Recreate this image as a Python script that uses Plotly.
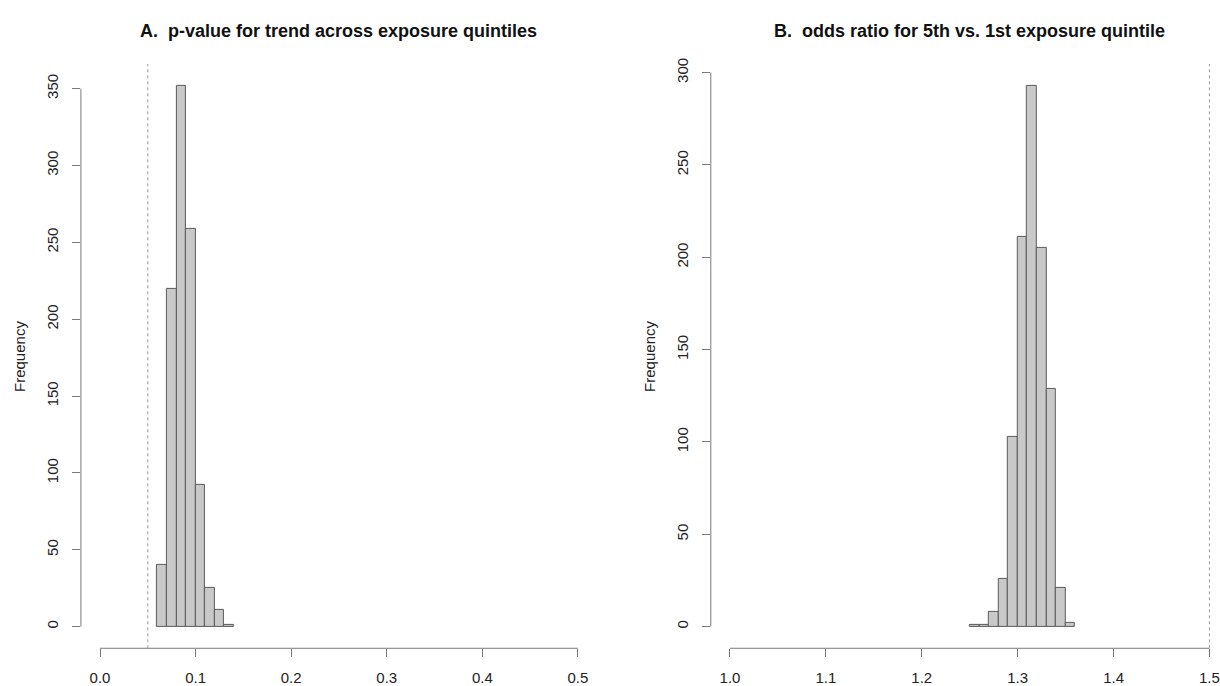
import plotly.graph_objects as go

# ---------------- Data ----------------
# Panel A: p-value for trend
a_bin_left = [0.06, 0.07, 0.08, 0.09, 0.10, 0.11, 0.12, 0.13]
a_counts = [40, 220, 352, 259, 92, 25, 11, 1]
a_xticks = [0.0, 0.1, 0.2, 0.3, 0.4, 0.5]
a_xticklabels = ["0.0", "0.1", "0.2", "0.3", "0.4", "0.5"]
a_yticks = [0, 50, 100, 150, 200, 250, 300, 350]
a_ref = 0.05
a_title = "A.  p-value for trend across exposure quintiles"

# Panel B: odds ratio
b_bin_left = [1.25, 1.26, 1.27, 1.28, 1.29, 1.30, 1.31, 1.32, 1.33, 1.34, 1.35]
b_counts = [1, 1, 8, 26, 103, 211, 293, 205, 129, 21, 2]
b_xticks = [1.0, 1.1, 1.2, 1.3, 1.4, 1.5]
b_xticklabels = ["1.0", "1.1", "1.2", "1.3", "1.4", "1.5"]
b_yticks = [0, 50, 100, 150, 200, 250, 300]
b_ref = 1.5
b_title = "B.  odds ratio for 5th vs. 1st exposure quintile"

bin_width = 0.01

# ---------------- Layout parameters ----------------
W, H = 1220, 686
a_xlim = (0.0, 0.5)
b_xlim = (1.0, 1.5)
pad = 0.04
a_xrange = [a_xlim[0] - pad * (a_xlim[1] - a_xlim[0]), a_xlim[1] + pad * (a_xlim[1] - a_xlim[0])]
b_full = [b_xlim[0] - pad * (b_xlim[1] - b_xlim[0]), b_xlim[1] + pad * (b_xlim[1] - b_xlim[0])]
b_xrange = [b_full[0], 1.511]  # picture is cropped at the right edge
a_yrange = [-pad * max(a_counts), (1 + pad) * max(a_counts)]
b_yrange = [-pad * max(b_counts), (1 + pad) * max(b_counts)]

a_dom_x = [80.9 / W, 597 / W]
b_dom_x = [710.8 / W, 1.0]
dom_y = [1 - 648.9 / H, 1 - 58.5 / H]

bar_fill = "#c9c9c9"
bar_line = "#5a5a5a"
axis_col = "#7a7a7a"
font_fam = "Liberation Sans, Arial, Helvetica, sans-serif"

fig = go.Figure()
fig.add_trace(go.Bar(
    x=[l + bin_width / 2 for l in a_bin_left], y=a_counts, width=bin_width,
    marker=dict(color=bar_fill, line=dict(color=bar_line, width=1)),
    xaxis="x", yaxis="y", showlegend=False, hoverinfo="x+y"))
fig.add_trace(go.Bar(
    x=[l + bin_width / 2 for l in b_bin_left], y=b_counts, width=bin_width,
    marker=dict(color=bar_fill, line=dict(color=bar_line, width=1)),
    xaxis="x2", yaxis="y2", showlegend=False, hoverinfo="x+y"))

tickfont = dict(family=font_fam, size=15, color="#222222")
common_x = dict(showgrid=False, zeroline=False, showline=False, ticks="outside",
                ticklen=8, tickwidth=1, tickcolor=axis_col, tickfont=tickfont,
                ticklabelstandoff=8)
common_y = dict(showgrid=False, zeroline=False, showline=False, ticks="outside",
                ticklen=8, tickwidth=1, tickcolor=axis_col, tickfont=tickfont,
                tickangle=-90, ticklabelstandoff=8)

fig.update_layout(
    width=W, height=H,
    margin=dict(l=0, r=0, t=0, b=0),
    paper_bgcolor="white", plot_bgcolor="white",
    bargap=0,
    xaxis=dict(domain=a_dom_x, range=a_xrange, tickvals=a_xticks, ticktext=a_xticklabels,
               anchor="y", **common_x),
    yaxis=dict(domain=dom_y, range=a_yrange, tickvals=a_yticks, anchor="x", **common_y),
    xaxis2=dict(domain=b_dom_x, range=b_xrange, tickvals=b_xticks, ticktext=b_xticklabels,
                anchor="y2", **common_x),
    yaxis2=dict(domain=dom_y, range=b_yrange, tickvals=b_yticks, anchor="x2", **common_y),
)

# Axis lines (R style: spanning first to last tick)
for xa, ya, xt, yt in (("x", "y", a_xticks, a_yticks), ("x2", "y2", b_xticks, b_yticks)):
    fig.add_shape(type="line", xref=xa, yref=ya + " domain", x0=xt[0], x1=xt[-1], y0=0, y1=0,
                  line=dict(color=axis_col, width=1))
    fig.add_shape(type="line", xref=xa + " domain", yref=ya, x0=0, x1=0, y0=yt[0], y1=yt[-1],
                  line=dict(color=axis_col, width=1))

# Reference lines
for xa, ya, ref in (("x", "y", a_ref), ("x2", "y2", b_ref)):
    fig.add_shape(type="line", xref=xa, yref=ya + " domain", x0=ref, x1=ref, y0=0, y1=1,
                  line=dict(color="#9a9a9a", width=1, dash="3px,3px"))

# Titles
title_y = 1 - 25 / H
fig.add_annotation(text="<b>" + a_title + "</b>", xref="x", yref="paper",
                   x=(a_xrange[0] + a_xrange[1]) / 2, y=title_y, showarrow=False,
                   xanchor="center", yanchor="middle",
                   font=dict(family=font_fam, size=18, color="#111111"))
fig.add_annotation(text="<b>" + b_title + "</b>", xref="x2", yref="paper",
                   x=(b_full[0] + b_full[1]) / 2, y=title_y, showarrow=False,
                   xanchor="center", yanchor="middle",
                   font=dict(family=font_fam, size=18, color="#111111"))

# Y-axis titles
for xa, ya in (("x", "y"), ("x2", "y2")):
    fig.add_annotation(text="Frequency", xref=xa + " domain", yref=ya + " domain",
                       x=0, y=0.5, xshift=-62, showarrow=False, textangle=-90,
                       xanchor="center", yanchor="middle",
                       font=dict(family=font_fam, size=15, color="#222222"))

fig.write_html(
    "out.html",
    config={"displayModeBar": False},
    post_script="document.body.style.margin='0';document.body.style.overflow='hidden';",
)
